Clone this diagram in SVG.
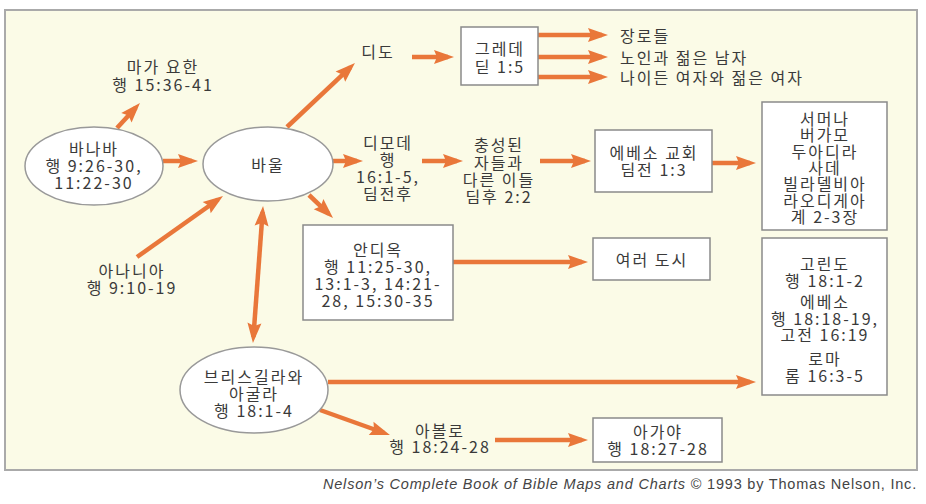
<svg xmlns="http://www.w3.org/2000/svg" width="926" height="504" viewBox="0 0 926 504">
<style>
text{font-family:"Noto Sans CJK KR","DejaVu Sans",sans-serif;font-size:16px;fill:#3a3a3a;letter-spacing:2px;text-anchor:middle}
.l{text-anchor:start}
.box{fill:#fff;stroke:#8a8a8a;stroke-width:1.5}
.ell{fill:#fff;stroke:#999;stroke-width:1.5}
.arr{stroke:#e9773a;stroke-width:4.5;fill:none;marker-end:url(#ah)}
.cap{font-family:"Liberation Sans",Arial,sans-serif;font-size:14.5px;letter-spacing:0.8px;fill:#444;text-anchor:end}
</style>
<defs>
<marker id="ah" markerUnits="userSpaceOnUse" markerWidth="20" markerHeight="14" refX="14" refY="7" orient="auto-start-reverse" overflow="visible">
<path d="M0,0 L20,7 L0,14 L3,7 z" fill="#e9773a"/>
</marker>
</defs>
<rect x="0" y="0" width="926" height="504" fill="#fff"/>
<rect x="5" y="10" width="912" height="460" fill="#fbfbe7" stroke="#aaa" stroke-width="2"/>

<g id="connectors">
<line class="arr" x1="117" y1="128" x2="135.9" y2="107.4"/>
<line class="arr" x1="163" y1="161" x2="192" y2="161"/>
<line class="arr" x1="137" y1="257" x2="218.1" y2="199.5"/>
<line class="arr" x1="262.6" y1="212" x2="253.4" y2="337" style="marker-start:url(#ah)"/>
<line class="arr" x1="287" y1="127" x2="350.6" y2="67.1"/>
<line class="arr" x1="412" y1="57" x2="448" y2="57"/>
<line class="arr" x1="538" y1="35" x2="602" y2="35"/>
<line class="arr" x1="538" y1="57" x2="602" y2="57"/>
<line class="arr" x1="538" y1="77" x2="602" y2="77"/>
<line class="arr" x1="331" y1="161" x2="357" y2="161"/>
<line class="arr" x1="422" y1="161" x2="457" y2="161"/>
<line class="arr" x1="540" y1="161" x2="585" y2="161"/>
<line class="arr" x1="712" y1="163" x2="750" y2="163"/>
<line class="arr" x1="309" y1="195" x2="328.7" y2="213.8"/>
<line class="arr" x1="453" y1="262" x2="582" y2="262"/>
<line class="arr" x1="328" y1="382" x2="750" y2="382"/>
<line class="arr" x1="320" y1="410" x2="384.3" y2="433"/>
<line class="arr" x1="495" y1="440" x2="582" y2="440"/>
</g>

<g id="mark">
<text><tspan x="163" y="73">마가 요한</tspan><tspan x="163" y="91">행 15:36-41</tspan></text>
</g>
<g id="barnabas">
<ellipse class="ell" cx="94" cy="166" rx="69" ry="39"/>
<text><tspan x="94" y="155">바나바</tspan><tspan x="94" y="172">행 9:26-30,</tspan><tspan x="94" y="189">11:22-30</tspan></text>
</g>
<g id="paul">
<ellipse class="ell" cx="268" cy="164" rx="65" ry="37"/>
<text x="268" y="171">바울</text>
</g>
<g id="ananias">
<text><tspan x="132" y="277">아나니아</tspan><tspan x="132" y="294">행 9:10-19</tspan></text>
</g>
<g id="priscilla">
<ellipse class="ell" cx="254" cy="390" rx="74" ry="43"/>
<text><tspan x="254" y="383">브리스길라와</tspan><tspan x="254" y="400">아굴라</tspan><tspan x="254" y="417">행 18:1-4</tspan></text>
</g>
<g id="titus">
<text x="378" y="58">디도</text>
</g>
<g id="crete">
<rect class="box" x="461" y="27" width="77" height="58"/>
<text><tspan x="500" y="55">그레데</tspan><tspan x="500" y="73">딛 1:5</tspan></text>
</g>
<g id="elders">
<text class="l" x="620" y="42">장로들</text>
</g>
<g id="oldyoungmen">
<text class="l" x="620" y="64">노인과 젊은 남자</text>
</g>
<g id="oldyoungwomen">
<text class="l" x="620" y="84">나이든 여자와 젊은 여자</text>
</g>
<g id="timothy">
<text><tspan x="388" y="149">디모데</tspan><tspan x="388" y="166">행</tspan><tspan x="388" y="183">16:1-5,</tspan><tspan x="388" y="200">딤전후</tspan></text>
</g>
<g id="faithful">
<text><tspan x="499" y="151">충성된</tspan><tspan x="499" y="169">자들과</tspan><tspan x="499" y="186">다른 이들</tspan><tspan x="499" y="203">딤후 2:2</tspan></text>
</g>
<g id="ephesus-church">
<rect class="box" x="595" y="130" width="117" height="62"/>
<text><tspan x="654" y="159">에베소 교회</tspan><tspan x="654" y="176">딤전 1:3</tspan></text>
</g>
<g id="seven-churches">
<rect class="box" x="762" y="102" width="125" height="128"/>
<text><tspan x="825" y="125">서머나</tspan><tspan x="825" y="141">버가모</tspan><tspan x="825" y="158">두아디라</tspan><tspan x="825" y="174">사데</tspan><tspan x="825" y="190">빌라델비아</tspan><tspan x="825" y="207">라오디게아</tspan><tspan x="825" y="223">계 2-3장</tspan></text>
</g>
<g id="antioch">
<rect class="box" x="303" y="225" width="150" height="95"/>
<text><tspan x="378" y="256">안디옥</tspan><tspan x="378" y="273">행 11:25-30,</tspan><tspan x="378" y="290">13:1-3, 14:21-</tspan><tspan x="378" y="307">28, 15:30-35</tspan></text>
</g>
<g id="cities">
<rect class="box" x="593" y="238" width="117" height="42"/>
<text x="652" y="266">여러 도시</text>
</g>
<g id="corinth-ephesus-rome">
<rect class="box" x="762" y="238" width="125" height="157"/>
<text><tspan x="825" y="270">고린도</tspan><tspan x="825" y="287">행 18:1-2</tspan><tspan x="825" y="308">에베소</tspan><tspan x="825" y="325">행 18:18-19,</tspan><tspan x="825" y="341">고전 16:19</tspan><tspan x="825" y="365">로마</tspan><tspan x="825" y="382">롬 16:3-5</tspan></text>
</g>
<g id="apollos">
<text><tspan x="440" y="437">아볼로</tspan><tspan x="440" y="453">행 18:24-28</tspan></text>
</g>
<g id="achaia">
<rect class="box" x="593" y="418" width="129" height="44"/>
<text><tspan x="658" y="438">아가야</tspan><tspan x="658" y="455">행 18:27-28</tspan></text>
</g>
<text class="cap" x="917" y="489"><tspan font-style="italic">Nelson’s Complete Book of Bible Maps and Charts</tspan> © 1993 by Thomas Nelson, Inc.</text>
</svg>
